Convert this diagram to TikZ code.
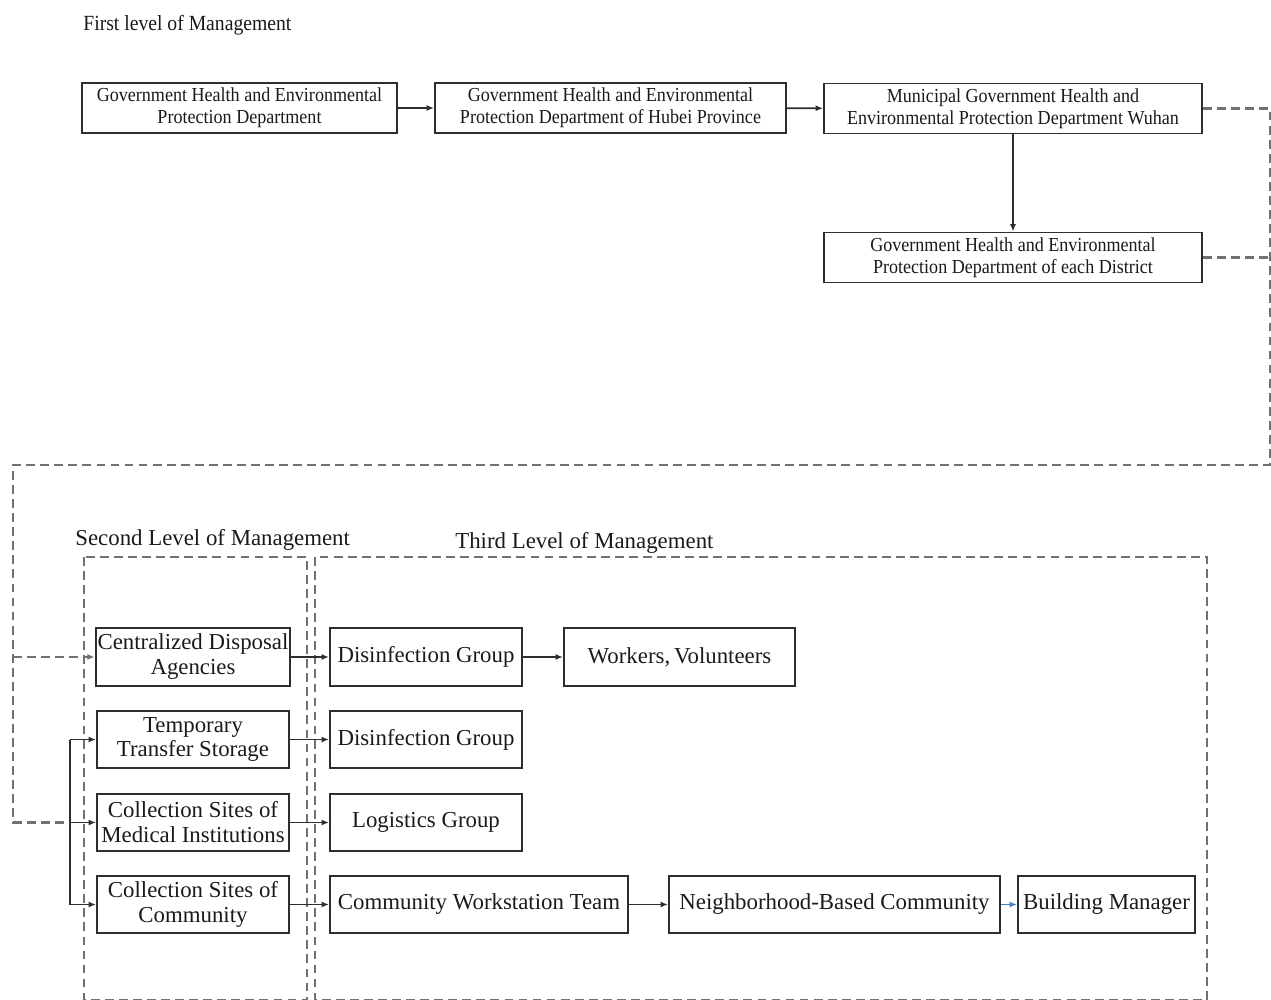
\documentclass[tikz,border=0pt]{standalone}
\usepackage{fontspec}
\setmainfont{Liberation Serif}
\newfontfamily\narrowrm[FakeStretch=0.91]{Liberation Serif}
\usetikzlibrary{arrows.meta,positioning}
\definecolor{rule}{HTML}{707070}
\definecolor{boxline}{HTML}{2e2e2e}
\definecolor{ink}{HTML}{1a1a1a}
\definecolor{accent}{HTML}{4a7fd4}

\begin{document}
\begin{tikzpicture}[x=0.02cm, y=-0.02cm,
  every node/.style={text=ink},
  topbox/.style={draw=boxline, line width=1.1pt, minimum height=1cm, inner sep=1pt, align=center, font=\narrowrm\fontsize{11.3}{12.5}\selectfont},
  unitbox/.style={draw=boxline, line width=1.2pt, minimum height=1.15cm, inner sep=1pt, align=center, font=\fontsize{13}{14.2}\selectfont},
  link/.style={-{Latex[length=4.2pt,width=3.4pt]}, line width=1pt, draw=boxline},
  guide/.style={dash pattern=on 5pt off 3pt, line width=1.25pt, draw=rule},
  lvl/.style={anchor=west, inner sep=0pt, font=\fontsize{13}{14}\selectfont}
]
\useasboundingbox (0,0) rectangle (1271,1000);
\clip (0,0) rectangle (1271,1000);

% first level
\node[anchor=west, inner sep=0pt, font=\narrowrm\fontsize{12.3}{13}\selectfont] (first) at (83,25) {First level of Management};
\node[topbox, minimum width=6.3cm] (gov) at (239.5,108) {Government Health and Environmental\\Protection Department};
\node[topbox, minimum width=7.02cm] (hubei) at (610.5,108) {Government Health and Environmental\\Protection Department of Hubei Province};
\node[topbox, minimum width=7.56cm] (wuhan) at (1013,108.5) {Municipal Government Health and\\Environmental Protection Department Wuhan};
\node[topbox, minimum width=7.56cm] (district) at (1013,257.5) {Government Health and Environmental\\Protection Department of each District};

\draw[link] (gov) -- (hubei);
\draw[link] (hubei) -- (wuhan);
\draw[link] (wuhan) -- (district);

% dashed frames for level 2 and 3
\draw[guide] (84,557) rectangle (307,1000);
\draw[guide] (315,557) rectangle (1207,1000);
\node[lvl] (second) at (75,540) {Second Level of Management};
\node[lvl] (third) at (455,543) {Third Level of Management};

% second level
\node[unitbox, minimum width=3.84cm] (cda) at (193,657) {Centralized Disposal\\Agencies};
\node[unitbox, minimum width=3.84cm] (tts) at (193,739.5) {Temporary\\Transfer Storage};
\node[unitbox, minimum width=3.84cm] (csm) at (193,822.5) {Collection Sites of\\Medical Institutions};
\node[unitbox, minimum width=3.84cm] (csc) at (193,904.5) {Collection Sites of\\Community};

% third level
\node[unitbox, minimum width=3.84cm] (dg1) at (426,657) {Disinfection Group};
\node[unitbox, minimum width=4.62cm] (wv) at (679.5,657) {Workers,\,Volunteers};
\node[unitbox, minimum width=3.84cm] (dg2) at (426,739.5) {Disinfection Group};
\node[unitbox, minimum width=3.84cm] (lg) at (426,822.5) {Logistics Group};
\node[unitbox, minimum width=5.96cm] (cwt) at (479,904.5) {Community Workstation Team};
\node[unitbox, minimum width=6.62cm] (nbc) at (834.5,904.5) {Neighborhood-Based Community};
\node[unitbox, minimum width=3.54cm] (bm) at (1106.5,904.5) {Building Manager};

\draw[link] (cda) -- (dg1);
\draw[link] (tts) -- (dg2);
\draw[link] (csm) -- (lg);
\draw[link] (csc) -- (cwt);
\draw[link] (dg1) -- (wv);
\draw[link] (cwt) -- (nbc);
\draw[link, draw=accent] (nbc) -- (bm);

% dashed guide from the city and district offices down to level 2
\coordinate (ne) at (1270,108.5);
\coordinate (se) at (1270,465);
\coordinate (sw) at (13,465);
\coordinate (fork) at (70,822.5);
\draw[guide] (wuhan.east) -- (ne) -- (se) -- (sw) |- (fork);
\draw[guide] (district.east) -- (district.east -| ne);
\draw[guide, -{Latex[length=4.2pt,width=3.4pt]}] (sw |- cda) -- (cda.west);

% solid bracket feeding the sites
\draw[link] (fork) -- (csm.west);
\draw[link] (fork |- tts) -- (tts.west);
\draw[link] (fork |- csc) -- (csc.west);
\draw[line width=1pt, draw=boxline] (fork |- tts) -- (fork |- csc);
\end{tikzpicture}
\end{document}
